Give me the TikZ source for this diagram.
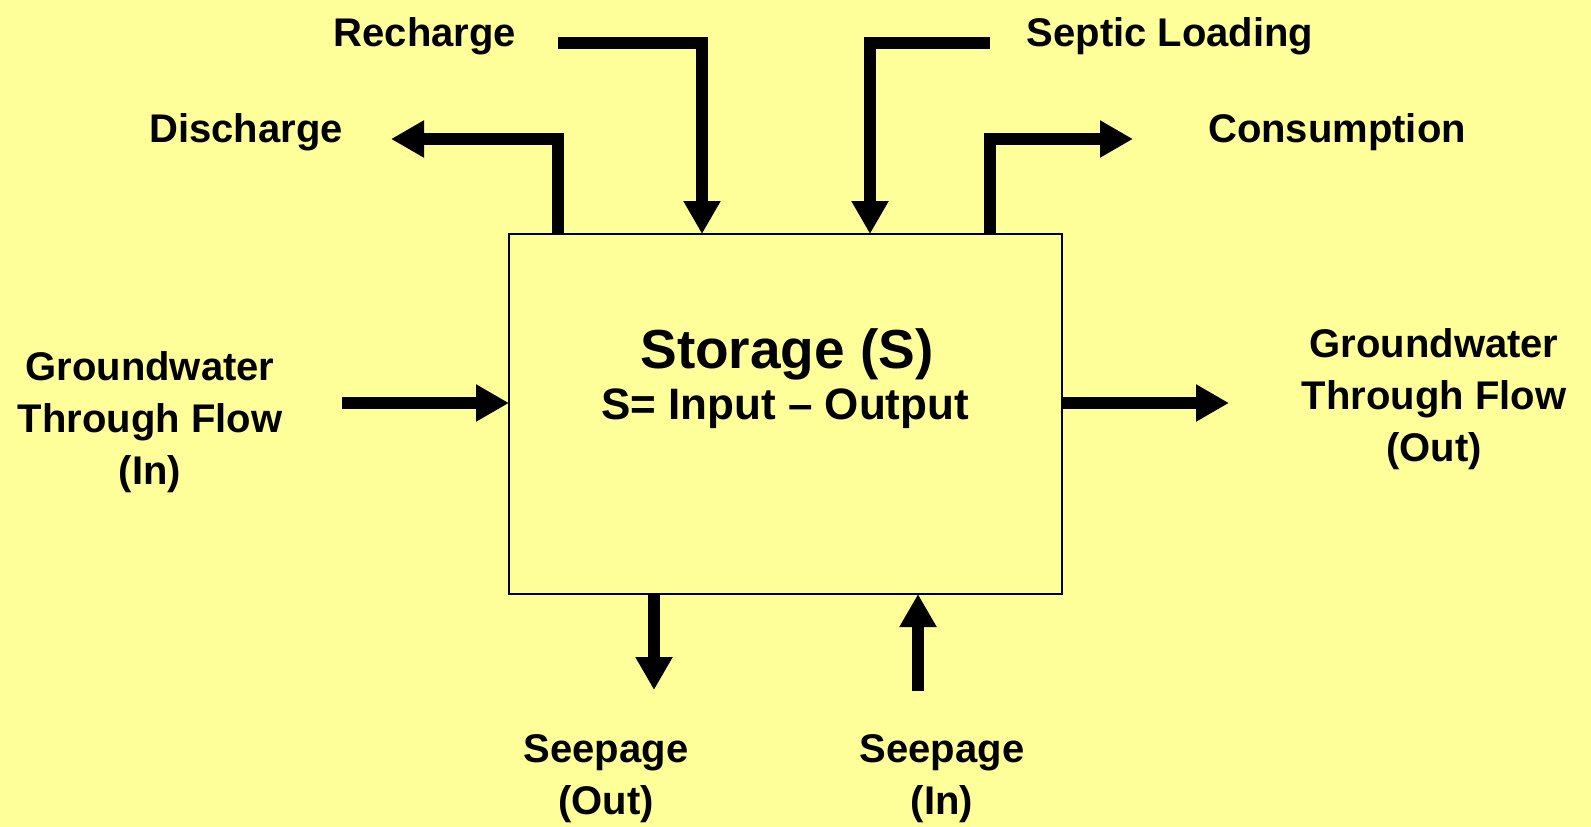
\documentclass[tikz,border=0pt]{standalone}
\usepackage{fontspec}
\setmainfont{Liberation Sans}
\usetikzlibrary{arrows.meta}
\definecolor{bg}{RGB}{255,255,153}
\begin{document}
\begin{tikzpicture}[x=1pt,y=-1pt,
  flow/.style={line width=12pt, line join=miter, -{Triangle[width=35pt,length=33pt]}},
  lbl/.style={font=\bfseries\fontsize{40}{52}\selectfont, align=center, inner sep=0pt},
  midl/.style={font=\bfseries\fontsize{44}{52}\selectfont, inner sep=0pt},
  bigl/.style={font=\bfseries\fontsize{55}{60}\selectfont, inner sep=0pt},
  boxst/.style={draw, line width=2pt, fill=bg, minimum width=553pt, minimum height=360pt, inner sep=0pt, outer sep=0pt}]
\path[fill=bg] (0,0) rectangle (1591,827);
\useasboundingbox (0,0) rectangle (1591,827);

\node[boxst] (S) at (785.5,414) {};
\node[bigl, anchor=base] (st1) at (787,368) {Storage (S)};
\node[midl, anchor=base] (st2) at (785,419) {S= Input -- Output};

% labels
\node[lbl, anchor=base] (recharge) at (425,46) {Recharge};
\node[lbl, anchor=base] (septic) at (1170,46) {Septic Loading};
\node[lbl, anchor=base] (discharge) at (246,142) {Discharge};
\node[lbl, anchor=base] (consumption) at (1337,142) {Consumption};
\node[lbl] (gwin) at (150,422) {Groundwater\\Through Flow\\(In)};
\node[lbl] (gwout) at (1434,399) {Groundwater\\Through Flow\\(Out)};
\node[lbl] (sepout) at (606,779) {Seepage\\(Out)};
\node[lbl] (sepin) at (942,779) {Seepage\\(In)};

% connector ends
\coordinate (rc) at (558,43);
\coordinate (dc) at (391,139);
\coordinate (sc) at (990,43);
\coordinate (cs) at (1133,139);
\coordinate (gi) at (342,403);
\coordinate (go) at (1229,403);
\coordinate (so) at (654,690);
\coordinate (si) at (918,691);

% connectors
\draw[flow] (rc) -| ([xshift=193pt]S.north west);
\draw[flow] ([xshift=49pt]S.north west) |- (dc);
\draw[flow] (sc) -| ([xshift=361pt]S.north west);
\draw[flow] ([xshift=481pt]S.north west) |- (cs);
\draw[flow] (gi) -- (gi -| S.west);
\draw[flow] (go -| S.east) -- (go);
\draw[flow] (so |- S.south) -- (so);
\draw[flow] (si) -- (si |- S.south);
\end{tikzpicture}
\end{document}
